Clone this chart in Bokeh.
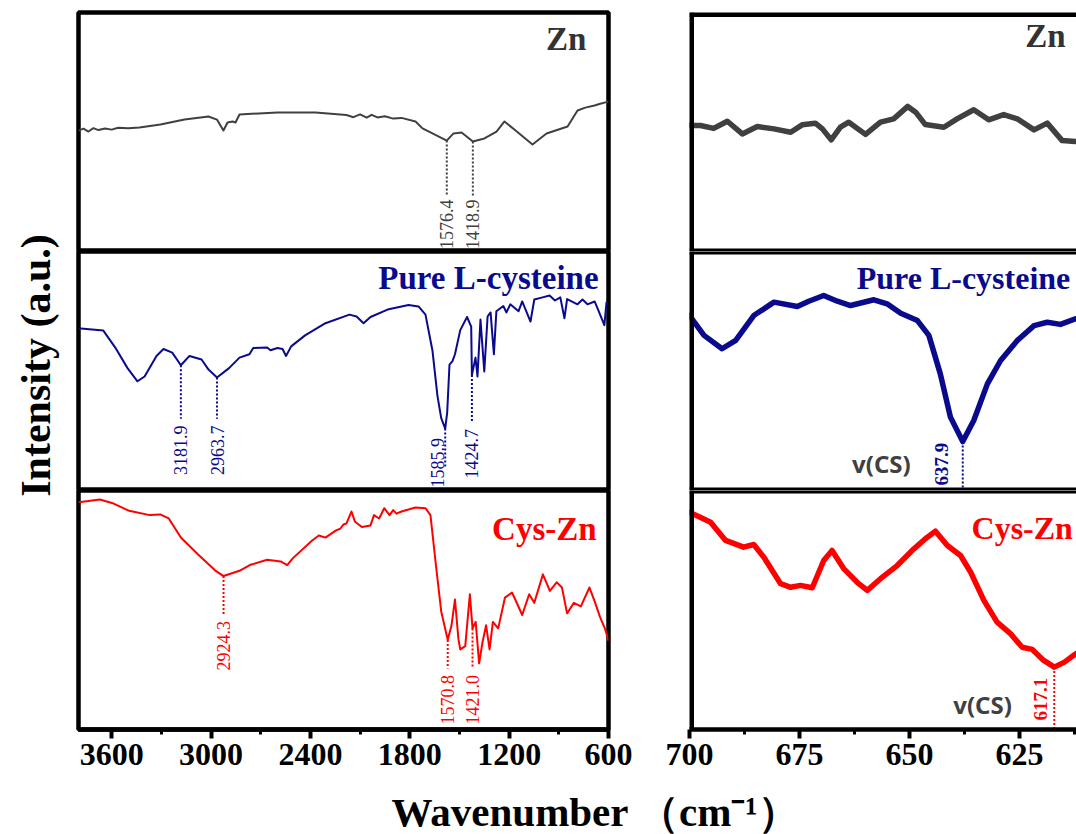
import numpy as np
from math import pi
from bokeh.plotting import figure
from bokeh.layouts import row, column
from bokeh.models import Range1d, FixedTicker, Label, Span
from bokeh.embed import file_html
from bokeh.resources import INLINE

# ---------------- data (wavenumber cm-1, relative intensity 0-100 per panel) -------------
full_zn_wn = [3800, 3770, 3740, 3710, 3680, 3640, 3600, 3560, 3500, 3432, 3305, 3160, 3015, 2964, 2925,
              2900, 2870, 2852, 2828, 2598, 2369, 2182, 2140, 2100, 2060, 2030, 1995, 1950, 1900, 1850,
              1765, 1723, 1663, 1576.4, 1536, 1487, 1418.9, 1349, 1276, 1228, 1161, 1059, 974,
              847, 787, 740, 684, 650, 624, 600]
full_zn_y = [50.6, 51.4, 50.2, 51.6, 50.8, 51.5, 51.0, 51.8, 51.6, 51.9, 53.1, 55.2, 56.5, 55.2, 50.6,
             54.0, 54.4, 54.0, 57.3, 58.2, 58.2, 57.1, 56.2, 57.4, 56.0, 57.2, 56.1, 56.6, 55.6, 55.9,
             54.4, 51.5, 49.4, 46.4, 49.4, 49.8, 46.0, 47.3, 50.2, 54.4, 50.6, 44.8, 49.4,
             52.3, 59.0, 60.2, 61.1, 61.8, 62.3, 62.8]

full_cys_wn = [3800, 3786, 3650, 3578, 3504, 3444, 3401, 3329, 3287, 3234, 3181.9, 3130, 3057, 3015, 2963.7,
               2891, 2828, 2768, 2745, 2661, 2641, 2599, 2568, 2547, 2516, 2432, 2309, 2164, 2121, 2079,
               2037, 1934, 1807, 1747, 1705, 1663, 1633, 1610, 1585.9, 1574, 1560, 1542, 1527, 1495, 1454,
               1429, 1424.7, 1403, 1391, 1373, 1350, 1330, 1312, 1292, 1277, 1235, 1216, 1193, 1143, 1121,
               1071, 1048, 998, 956, 923, 891, 866, 850, 787, 757, 727, 684, 663, 625, 612, 600]
full_cys_y = [67.8, 67.8, 66.9, 59.8, 51.2, 45.7, 47.7, 56.3, 59.2, 57.7, 52.4, 56.3, 54.8, 50.6, 47.3,
              51.2, 55.6, 57.0, 59.6, 59.8, 58.7, 59.6, 59.2, 56.3, 60.3, 64.9, 70.0, 73.6, 72.8, 70.0,
              72.6, 75.7, 77.6, 77.0, 73.6, 58.6, 39.7, 30.3, 25.9, 32.6, 52.7, 54.1, 57.0, 67.1, 72.6,
              68.6, 48.3, 55.6, 47.7, 71.5, 49.8, 72.8, 74.5, 57.0, 75.0, 77.2, 74.5, 77.9, 75.0, 79.1,
              70.7, 79.9, 80.8, 81.6, 79.5, 80.8, 72.1, 80.1, 77.9, 79.9, 77.9, 79.1, 75.7, 69.2, 78.7, 78.0]

full_cyszn_wn = [3800, 3786, 3671, 3598, 3494, 3370, 3307, 3255, 3182, 3078, 2974, 2924.3, 2828, 2766, 2661,
                 2579, 2540, 2505, 2391, 2349, 2309, 2245, 2220, 2200, 2182, 2152, 2130, 2089, 2037, 2016,
                 1985, 1954, 1922, 1900, 1880, 1850, 1766, 1705, 1675, 1641, 1610, 1570.8, 1548, 1527, 1506,
                 1495, 1465, 1437, 1421.0, 1402, 1381, 1361, 1339, 1318, 1298, 1266, 1225, 1183, 1163, 1121,
                 1079, 1048, 996, 954, 913, 881, 850, 809, 767, 715, 684, 652, 621, 605, 600]
full_cyszn_y = [95.2, 95.2, 96.2, 94.8, 91.5, 89.7, 90.0, 88.3, 80.3, 73.2, 66.5, 64.2, 66.4, 68.8, 71.0,
                70.3, 68.8, 71.7, 79.0, 81.2, 80.3, 83.3, 84.0, 85.8, 86.2, 91.2, 86.9, 84.7, 85.4, 89.7,
                88.3, 92.6, 89.7, 91.8, 90.3, 91.2, 92.9, 92.6, 89.7, 68.2, 49.4, 37.5, 43.5, 54.4, 37.8,
                33.5, 34.9, 56.6, 42.3, 45.0, 27.7, 36.4, 43.6, 33.5, 45.0, 42.3, 55.2, 57.3, 54.4, 47.9,
                56.6, 53.0, 64.9, 58.0, 61.6, 59.4, 48.6, 53.0, 51.5, 59.4, 53.7, 47.2, 42.1, 38.5, 37.0]

zoom_zn_wn = [700, 697.5, 694.5, 691.4, 688.0, 684.6, 680.8, 677.0, 674.4, 671.4, 669.8, 667.8, 665.7, 663.8,
              660.0, 656.6, 653.6, 650.4, 648.6, 646.4, 642.2, 639.2, 635.4, 632.0, 628.6, 625.5, 621.7,
              618.7, 615.3, 612.3, 611.5]
zoom_zn_y = [52.7, 52.7, 51.5, 54.5, 49.2, 52.3, 51.3, 49.9, 53.0, 53.7, 51.3, 46.7, 52.0, 54.1,
             49.0, 54.1, 55.5, 60.7, 58.3, 53.1, 52.0, 55.5, 59.3, 55.1, 57.3, 55.5, 50.9,
             53.7, 46.4, 46.0, 46.0]

zoom_cys_wn = [700, 696.7, 692.6, 689.5, 685.4, 680.8, 675.5, 672.9, 669.5, 666.4, 663.4, 658.1, 655.1, 652.0,
               648.2, 645.6, 643.0, 640.7, 637.9, 635.4, 632.3, 629.3, 625.5, 621.7, 618.7, 615.7, 612.3, 611.5]
zoom_cys_y = [73.2, 64.9, 59.3, 62.8, 73.2, 78.8, 77.0, 79.2, 81.6, 79.2, 77.4, 79.8, 78.1, 74.2,
              71.1, 64.9, 48.8, 30.7, 20.5, 29.3, 44.6, 54.4, 62.8, 69.0, 70.4, 69.5, 71.8, 72.2]

zoom_cyszn_wn = [700, 695.2, 691.8, 687.7, 685.4, 683.1, 679.3, 677.0, 674.8, 672.1, 669.5, 667.6, 664.9, 661.9,
                 659.6, 656.6, 652.8, 649.0, 646.4, 644.1, 641.4, 638.4, 636.1, 633.1, 630.1, 627.0, 624.4,
                 622.1, 619.5, 617.1, 614.8, 612.2, 611.5]
zoom_cyszn_y = [90.9, 86.7, 79.1, 76.3, 77.4, 72.1, 61.0, 59.5, 60.3, 59.3, 70.7, 74.9, 67.2, 61.6,
                58.2, 63.1, 68.6, 75.6, 79.8, 83.0, 77.0, 72.8, 65.8, 54.0, 44.9, 40.0, 34.4,
                33.5, 28.9, 26.1, 28.2, 31.7, 32.5]

panel_names = ["Zn", "Pure L-cysteine", "Cys-Zn"]
zn_peaks = [1576.4, 1418.9]
cys_peaks = [3181.9, 2963.7, 1585.9, 1424.7]
cyszn_peaks = [2924.3, 1570.8, 1421.0]
cys_zoom_peaks = [637.9]
cyszn_zoom_peaks = [617.1]
vcs_label = "v(CS)"

full_ticks = [3600, 3000, 2400, 1800, 1200, 600]
full_minor = [3300, 2700, 2100, 1500, 900]
zoom_ticks = [700, 675, 650, 625]
zoom_minor = [687.5, 662.5, 637.5, 612.5]

x_title = "Wavenumber \uff08cm\u207b\u00b9\uff09"
y_title = "Intensity (a.u.)"

# ---------------- style ----------------
SERIF = "Liberation Serif"
C_ZN = "#404040"
C_CYS = "#0a0a8c"
C_CYSZN = "#ff0000"
FRAME_W = 4.5
INNER_W = 6


def make_fig(xr, width, height, left, right, top, bottom, axis=False, ticks=None, minor=None,
             open_right=False, top_w=INNER_W, bottom_w=INNER_W):
    p = figure(width=width, height=height, x_range=Range1d(*xr), y_range=Range1d(0, 100),
               output_backend="svg", toolbar_location=None,
               x_axis_location="below" if axis else None, y_axis_location=None,
               min_border_left=left, min_border_right=right,
               min_border_top=top, min_border_bottom=bottom)
    p.xgrid.visible = False
    p.ygrid.visible = False
    p.background_fill_color = "white"
    p.border_fill_color = "white"
    if open_right:
        # frame without a right edge (the reference panel runs off the page);
        # spans are clipped to the frame, so only their inner half shows
        p.outline_line_color = None
        p.add_layout(Span(location=xr[0], dimension="height", line_color="black", line_width=2 * FRAME_W))
        p.add_layout(Span(location=100, dimension="width", line_color="black", line_width=top_w))
        if not axis:
            p.add_layout(Span(location=0, dimension="width", line_color="black", line_width=bottom_w))
    else:
        p.outline_line_color = "black"
        p.outline_line_width = FRAME_W
    if axis:
        ax = p.xaxis[0]
        ax.ticker = FixedTicker(ticks=ticks, minor_ticks=minor)
        ax.axis_line_width = FRAME_W
        ax.axis_line_color = "black"
        ax.major_tick_line_width = 4
        ax.major_tick_out = 9
        ax.major_tick_in = 0
        ax.minor_tick_line_width = 3
        ax.minor_tick_out = 5
        ax.minor_tick_in = 0
        ax.major_label_text_font = SERIF
        ax.major_label_text_font_size = "32px"
        ax.major_label_text_font_style = "bold"
        ax.major_label_text_color = "black"
        ax.major_label_standoff = 5
    return p


def add_title(p, text, x, y, color, align, size=33):
    p.add_layout(Label(x=x, y=y, text=text, text_align=align, text_baseline="middle",
                       text_font=SERIF, text_font_size=f"{size}px", text_font_style="bold",
                       text_color=color))


def annotate(p, peaks, wn, yv, color, text_y, line_bottom, offsets, size=18, bold=False):
    xs = np.array(wn, dtype=float)[::-1]
    ys = np.array(yv, dtype=float)[::-1]
    for pk, ty, lb, off in zip(peaks, text_y, line_bottom, offsets):
        ytop = float(np.interp(pk, xs, ys))
        p.segment(x0=[pk], y0=[ytop], x1=[pk], y1=[lb], line_color=color,
                  line_width=2, line_dash="2 2")
        p.add_layout(Label(x=pk, y=ty, text=f"{pk:.1f}", angle=pi / 2, text_align="left",
                           text_baseline="middle", x_offset=off, text_font=SERIF,
                           text_font_size=f"{size}px",
                           text_font_style="bold" if bold else "normal", text_color=color))


FULL_X = (3800, 600)
ZOOM_X = (700, 612.05)

# left column
l1 = make_fig(FULL_X, 567, 251, 4, 33, 12, 0)
l2 = make_fig(FULL_X, 567, 239, 4, 33, 0, 0)
l3 = make_fig(FULL_X, 567, 295, 4, 33, 0, 56, axis=True, ticks=full_ticks, minor=full_minor)

l1.line(full_zn_wn, full_zn_y, line_color=C_ZN, line_width=2, line_join="round")
l2.line(full_cys_wn, full_cys_y, line_color=C_CYS, line_width=2, line_join="round")
l3.line(full_cyszn_wn, full_cyszn_y, line_color=C_CYSZN, line_width=2, line_join="round")

add_title(l1, panel_names[0], 733, 89, "#333333", "right")
add_title(l2, panel_names[1], 660, 89, C_CYS, "right")
add_title(l3, panel_names[2], 672, 84, C_CYSZN, "right")

annotate(l1, zn_peaks, full_zn_wn, full_zn_y, C_ZN, [1.0, 1.0], [23, 23], [0, 0])
annotate(l2, cys_peaks, full_cys_wn, full_cys_y, C_CYS, [6.5, 6.5, 1.3, 5.0], [30, 30, 10, 28.5],
         [0, 0, -8, 0])
annotate(l3, cyszn_peaks, full_cyszn_wn, full_cyszn_y, C_CYSZN, [24.7, 2.1, 2.1], [47.5, 25.5, 25.5],
         [0, 0, 0])

# right column
r1 = make_fig(ZOOM_X, 435, 251, 48, 0, 12, 0, open_right=True, top_w=2 * FRAME_W)
r2 = make_fig(ZOOM_X, 435, 239, 48, 0, 0, 0, open_right=True)
r3 = make_fig(ZOOM_X, 435, 295, 48, 0, 0, 56, axis=True, ticks=zoom_ticks, minor=zoom_minor,
              open_right=True)

r1.line(zoom_zn_wn, zoom_zn_y, line_color=C_ZN, line_width=5.5, line_join="round", line_cap="round")
r2.line(zoom_cys_wn, zoom_cys_y, line_color=C_CYS, line_width=5.5, line_join="round", line_cap="round")
r3.line(zoom_cyszn_wn, zoom_cyszn_y, line_color=C_CYSZN, line_width=5.5, line_join="round", line_cap="round")

add_title(r1, panel_names[0], 614.5, 90, "#333333", "right")
add_title(r2, panel_names[1], 662.0, 89, C_CYS, "left", size=32)
add_title(r3, panel_names[2], 635.9, 84.5, C_CYSZN, "left", size=32)

annotate(r2, cys_zoom_peaks, zoom_cys_wn, zoom_cys_y, C_CYS, [2.1], [0], [-21], size=19, bold=True)
annotate(r3, cyszn_zoom_peaks, zoom_cyszn_wn, zoom_cyszn_y, C_CYSZN, [3.8], [0], [-14], size=19, bold=True)

for p, (vx, vy) in ((r2, (656.4, 11.3)), (r3, (633.4, 10.5))):
    p.add_layout(Label(x=vx, y=vy, text=vcs_label, text_align="center", text_baseline="middle",
                       text_font="Noto Sans", text_font_size="24px", text_font_style="bold",
                       text_color="#404040"))

# y title strip
ylab = figure(width=74, height=785, x_range=Range1d(0, 74), y_range=Range1d(0, 785),
              output_backend="svg", toolbar_location=None, x_axis_location=None,
              y_axis_location=None, min_border=0)
ylab.xgrid.visible = False
ylab.ygrid.visible = False
ylab.outline_line_color = None
ylab.add_layout(Label(x=35, y=420, text=y_title, angle=pi / 2, text_align="center",
                      text_baseline="middle", text_font=SERIF, text_font_size="42px",
                      text_font_style="bold", text_color="black"))

# x title strip
xlab = figure(width=1076, height=49, x_range=Range1d(0, 1076), y_range=Range1d(0, 49),
              output_backend="svg", toolbar_location=None, x_axis_location=None,
              y_axis_location=None, min_border=0)
xlab.xgrid.visible = False
xlab.ygrid.visible = False
xlab.outline_line_color = None
xlab.add_layout(Label(x=595, y=23, text=x_title, text_align="center", text_baseline="middle",
                      text_font=SERIF, text_font_size="41px", text_font_style="bold",
                      text_color="black"))

layout = column(row(ylab, column(l1, l2, l3), column(r1, r2, r3)), xlab)

open("out.html", "w").write(file_html(layout, INLINE))
